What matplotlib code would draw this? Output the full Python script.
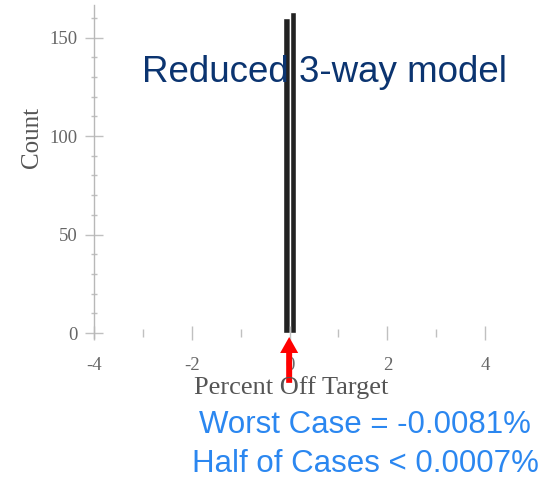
import matplotlib.pyplot as plt
import numpy as np

# histogram of percent off target (two bins around zero)
bin_edges = [-0.125, 0.0, 0.125]
bin_counts = [160, 163]
worst_case = -0.0081
half_cases = 0.0007

title_txt = "Reduced 3-way model"
note_lines = [f"Worst Case = {worst_case}%", f"Half of Cases < {half_cases}%"]

serif = "Liberation Serif"
sans = "Liberation Sans"
plt.rcParams["axes.unicode_minus"] = False

fig = plt.figure(figsize=(5.46, 4.78), dpi=100)
ax = fig.add_axes([94 / 546, 1 - 338 / 478, 440 / 546, 333 / 478])

ax.bar(bin_edges[:-1], bin_counts, width=np.diff(bin_edges), align="edge",
       color="#222222", edgecolor="white", linewidth=1.0)

ax.set_xlim(-4, 5)
ax.set_ylim(-2.5, 166.5)

for s in ["top", "right"]:
    ax.spines[s].set_visible(False)
ax.spines["left"].set_color("#b8b8b8")
ax.spines["left"].set_linewidth(1.0)
ax.spines["bottom"].set_position(("data", 0))
ax.spines["bottom"].set_color("none")

ax.set_xticks([-4, -2, 0, 2, 4])
ax.set_xticks([-3, -1, 1, 3], minor=True)
ax.set_yticks([0, 50, 100, 150])
ax.set_yticks(np.arange(10, 170, 10), minor=True)
ax.tick_params(axis="x", which="major", direction="inout", length=10, width=1,
               color="#c0c0c0", labelsize=13.5, labelcolor="#666666", pad=12)
ax.tick_params(axis="x", which="minor", direction="inout", length=6, width=1,
               color="#c0c0c0")
ax.tick_params(axis="y", which="major", direction="inout", length=13, width=1,
               color="#c0c0c0", labelsize=13.5, labelcolor="#666666", pad=5)
ax.tick_params(axis="y", which="minor", direction="inout", length=5, width=1,
               color="#c0c0c0")
for lbl in ax.get_xticklabels() + ax.get_yticklabels():
    lbl.set_fontfamily(serif)

fig.text(32 / 546, 1 - 137 / 478, "Count", rotation=90, ha="center", va="center",
         fontsize=18, family=serif, color="#555555")
fig.text(291 / 546, 1 - 394 / 478, "Percent Off Target", ha="center", va="baseline",
         fontsize=19, family=serif, color="#555555")

fig.text(324 / 546, 1 - 82 / 478, title_txt, ha="center", va="baseline",
         fontsize=26.5, family=sans, color="#0b3470")

fig.text(365 / 546, 1 - 433 / 478, note_lines[0], ha="center", va="baseline",
         fontsize=22.5, family=sans, color="#2b87f0")
fig.text(365 / 546, 1 - 472 / 478, note_lines[1], ha="center", va="baseline",
         fontsize=22.5, family=sans, color="#2b87f0")

# red arrow pointing at the worst case
ax.annotate("", xy=(worst_case, -2), xytext=(0, -33), textcoords="offset points",
            arrowprops=dict(facecolor="red", edgecolor="none", width=4.3,
                            headwidth=13, headlength=11.5, shrink=0))

fig.savefig("out.png", dpi=100)
